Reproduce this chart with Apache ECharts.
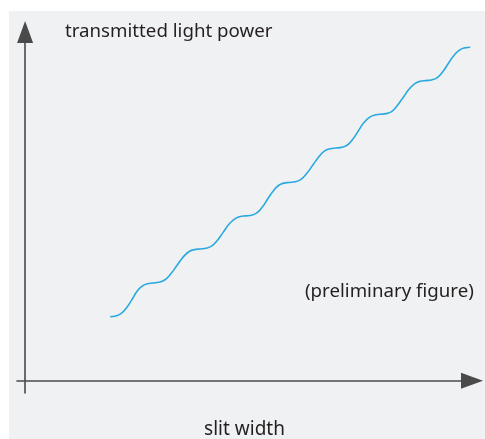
<!DOCTYPE html>
<html>
<head>
<meta charset="utf-8">
<script src="https://cdn.jsdelivr.net/npm/echarts@6/dist/echarts.min.js"></script>
<style>
  html, body { margin: 0; padding: 0; background: #ffffff; overflow: hidden; }
  #chart {
    position: absolute; left: 9px; top: 11px;
    width: 476px; height: 428px;
    background: #f0f1f3;
  }
</style>
</head>
<body>
<div id="chart"></div>
<script>
// Slit width (arbitrary units) and transmitted light power (arbitrary units)
const slitWidth = [
  1.89, 2.01, 2.13, 2.25, 2.37, 2.48, 2.60, 2.72,
  2.84, 2.97, 3.10, 3.23, 3.37, 3.50, 3.63, 3.76,
  3.89, 4.02, 4.15, 4.27, 4.40, 4.53, 4.66, 4.78,
  4.91, 5.03, 5.15, 5.27, 5.39, 5.51, 5.63, 5.75,
  5.87, 6.00, 6.13, 6.26, 6.39, 6.52, 6.65, 6.78,
  6.91, 7.03, 7.16, 7.28, 7.40, 7.52, 7.65, 7.77,
  7.89, 8.02, 8.15, 8.27, 8.40, 8.53, 8.66, 8.78,
  8.91, 9.03, 9.16, 9.28, 9.40, 9.52, 9.65, 9.77,
  9.89
];
const lightPower = [
  1.90, 1.92, 1.99, 2.16, 2.40, 2.64, 2.81, 2.88,
  2.90, 2.92, 2.99, 3.16, 3.41, 3.65, 3.82, 3.89,
  3.91, 3.93, 4.00, 4.16, 4.40, 4.64, 4.80, 4.87,
  4.89, 4.91, 4.98, 5.15, 5.39, 5.62, 5.79, 5.86,
  5.88, 5.90, 5.97, 6.15, 6.39, 6.63, 6.81, 6.88,
  6.90, 6.92, 6.99, 7.16, 7.40, 7.64, 7.81, 7.88,
  7.90, 7.92, 7.99, 8.16, 8.40, 8.64, 8.81, 8.88,
  8.90, 8.92, 8.99, 9.16, 9.40, 9.63, 9.80, 9.87,
  9.89
];

const xAxisTitle = 'slit width';
const yAxisTitle = 'transmitted light power';
const note = '(preliminary figure)';

const points = slitWidth.map((x, i) => [x, lightPower[i]]);

const textColor = '#231f20';
const axisColor = '#4a4a4a';
const fontFamily = '"Noto Sans", "Open Sans", sans-serif';

const chart = echarts.init(document.getElementById('chart'), null, { renderer: 'canvas' });
chart.setOption({
  backgroundColor: 'transparent',
  animation: false,
  title: [
    {
      text: yAxisTitle, left: 56, top: 11, padding: 0,
      textStyle: { color: textColor, fontSize: 18.7, fontWeight: 'normal', fontFamily: fontFamily }
    },
    {
      text: note, left: 296, top: 271, padding: 0,
      textStyle: { color: textColor, fontSize: 18.7, fontWeight: 'normal', fontFamily: fontFamily }
    }
  ],
  grid: { left: 8, right: 13, top: 21, bottom: 46, outerBoundsMode: 'none', containLabel: false },
  xAxis: {
    type: 'value', min: -0.18, max: 9.93,
    name: xAxisTitle, nameLocation: 'middle', nameGap: 27,
    nameTextStyle: { color: textColor, fontSize: 19, fontFamily: fontFamily },
    axisLine: {
      onZero: true,
      symbol: ['none', 'triangle'], symbolSize: [16, 22],
      lineStyle: { color: axisColor, width: 1.6 }
    },
    axisTick: { show: false }, axisLabel: { show: false }, splitLine: { show: false }
  },
  yAxis: {
    type: 'value', min: -0.36, max: 10.34,
    axisLine: {
      show: true, onZero: true,
      symbol: ['none', 'triangle'], symbolSize: [16, 22],
      lineStyle: { color: axisColor, width: 1.6 }
    },
    axisTick: { show: false }, axisLabel: { show: false }, splitLine: { show: false }
  },
  series: [{
    type: 'line',
    data: points,
    smooth: 0.5,
    showSymbol: false,
    lineStyle: { color: '#2aa9e0', width: 1.6 }
  }]
});
</script>
</body>
</html>
